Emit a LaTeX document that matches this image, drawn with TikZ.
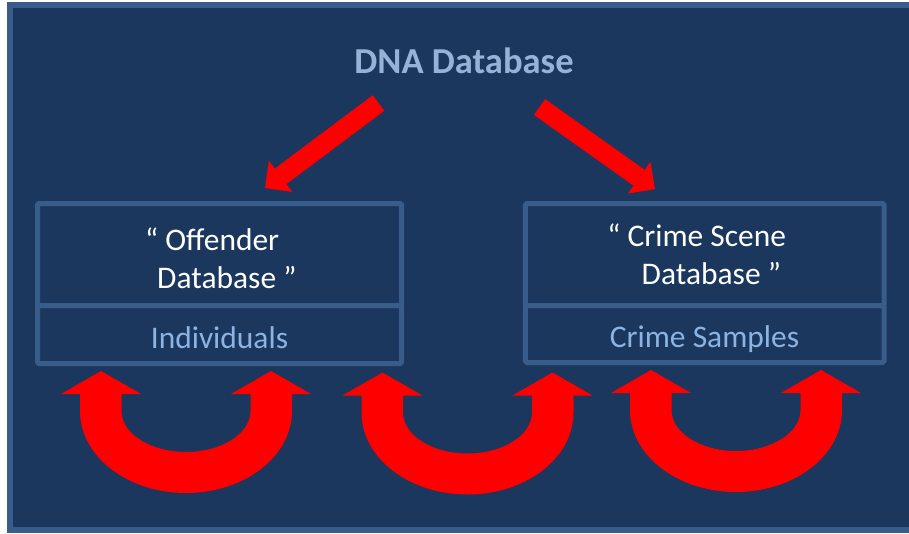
\documentclass[tikz,border=0pt]{standalone}
\usepackage{fontspec}
\setmainfont{Carlito}
\usetikzlibrary{arrows.meta}

\definecolor{bgnavy}{HTML}{1B375E}
\definecolor{frameblue}{HTML}{385D8A}
\definecolor{titleblue}{HTML}{95B3D7}
\definecolor{labelblue}{HTML}{8DB3E2}
\definecolor{arrowred}{HTML}{FF0000}

\tikzset{
  dbpart/.style={draw=frameblue, line width=3.75pt, rounded corners=1pt, inner sep=0pt},
  nametext/.style={text=white, font=\fontsize{23.6pt}{27.8pt}\selectfont, align=center, inner sep=0pt},
  labeltext/.style={text=labelblue, font=\fontsize{23.6pt}{27.8pt}\selectfont, inner sep=0pt},
  feed/.style={arrowred, line width=14.5pt, -{Triangle[length=14.6pt,width=29.2pt,line width=0pt]}},
}

\begin{document}
\begin{tikzpicture}[x=0.75pt,y=-0.75pt]
  \useasboundingbox (0,0) rectangle (909,533);
  % panel
  \fill[white] (0,0) rectangle (909,533);
  \draw[frameblue, line width=4.5pt, fill=bgnavy] (9.5,5) rectangle (930,529.5);

  % title
  \node[font=\bfseries\fontsize{27.4pt}{32pt}\selectfont, text=titleblue, anchor=base, inner sep=0pt] (dna) at (464,73) {DNA Database};

  % the two databases (name part + contents part)
  \node[dbpart, minimum width=273pt, minimum height=76.5pt] (offtop) at (219.5,254.5) {};
  \node[dbpart, minimum width=273pt, minimum height=43.5pt] (offbot) at (219.5,334.5) {};
  \node[dbpart, minimum width=268.9pt, minimum height=76.5pt] (crimetop) at (704.75,254.5) {};
  \node[dbpart, minimum width=268.9pt, minimum height=42.75pt] (crimebot) at (704.75,334) {};

  \node[nametext, anchor=base] (offname) at (219.5,288) {“ Offender\hspace*{11pt}\\\hspace*{11pt}Database ”};
  \node[nametext, anchor=base] (crimename) at (704,284) {“ Crime Scene\hspace*{11pt}\\\hspace*{11pt}Database ”};
  \node[labeltext, anchor=base] (indiv) at (219.5,348) {Individuals};
  \node[labeltext, anchor=base] (samples) at (704.5,347) {Crime Samples};

  % feeds from the DNA database
  \coordinate (offtail) at (378.5,103);
  \coordinate (offtip) at (265,188);
  \coordinate (crimetail) at (539.5,107);
  \coordinate (crimetip) at (655,189);
  \draw[feed] (offtail) -- (offtip);
  \draw[feed] (crimetail) -- (crimetip);

  % U-turn block arrows under the boxes
  \foreach \cx/\ty in {186/371, 467.5/372.5, 736/370} {
    \fill[arrowred]
      ({\cx-106},{\ty+40}) -- ({\cx-106},{\ty+23}) -- ({\cx-125},{\ty+23}) -- ({\cx-85},\ty)
      -- ({\cx-45},{\ty+23}) -- ({\cx-64.5},{\ty+23}) -- ({\cx-64.5},{\ty+40})
      .. controls ({\cx-64.5},{\ty+62.6}) and ({\cx-35.6},{\ty+81}) .. (\cx,{\ty+81})
      .. controls ({\cx+35.6},{\ty+81}) and ({\cx+64.5},{\ty+62.6}) .. ({\cx+64.5},{\ty+40})
      -- ({\cx+64.5},{\ty+23}) -- ({\cx+45},{\ty+23}) -- ({\cx+85},\ty) -- ({\cx+125},{\ty+23})
      -- ({\cx+106},{\ty+23}) -- ({\cx+106},{\ty+40})
      .. controls ({\cx+106},{\ty+85.3}) and ({\cx+58.5},{\ty+122}) .. (\cx,{\ty+122})
      .. controls ({\cx-58.5},{\ty+122}) and ({\cx-106},{\ty+85.3}) .. cycle;
  }
\end{tikzpicture}
\end{document}
